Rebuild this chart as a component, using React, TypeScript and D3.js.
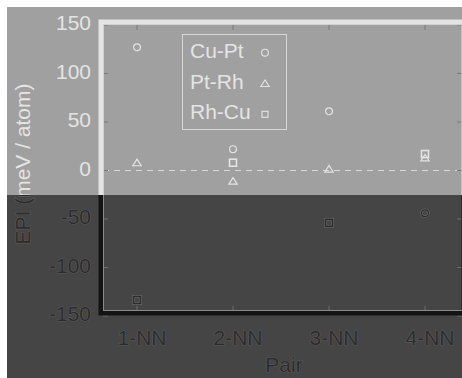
import React from "react";
import * as d3 from "d3";

const categories = ["1-NN", "2-NN", "3-NN", "4-NN"];
const seriesNames = ["Cu-Pt", "Pt-Rh", "Rh-Cu"];
const cuPt = [127, 22, 61, -44];
const ptRh = [8, -11, 1.5, 13];
const rhCu = [-133.5, 8, -54, 17];
const yTicks = [150, 100, 50, 0, -50, -100, -150];
const xTitle = "Pair";
const yTitle = "EPI (meV / atom)";

const W = 462;
const H = 378;
const SPLIT = 195;
const FONT = "'Liberation Sans', Arial, sans-serif";

const x = d3.scalePoint<string>().domain(categories).range([101, 461]).padding(0.375);
const y = d3.scaleLinear().domain([-150, 150]).range([316, 25]);

const series = [
  { name: seriesNames[0], values: cuPt, shape: "circle" },
  { name: seriesNames[1], values: ptRh, shape: "triangle" },
  { name: seriesNames[2], values: rhCu, shape: "square" },
];

function Marker({ shape, cx, cy, color, sw, legend }: any) {
  if (shape === "circle") {
    return <circle cx={cx} cy={cy} r={3.4} fill="none" stroke={color} strokeWidth={sw} />;
  }
  if (shape === "triangle") {
    const p = d3.path();
    p.moveTo(cx, cy - 3.6);
    p.lineTo(cx + 4.2, cy + 3);
    p.lineTo(cx - 4.2, cy + 3);
    p.closePath();
    return <path d={p.toString()} fill="none" stroke={color} strokeWidth={sw} />;
  }
  const s = legend ? 6 : 7;
  return <rect x={cx - s / 2} y={cy - s / 2} width={s} height={s} fill="none" stroke={color} strokeWidth={sw + (legend ? 0 : 0.4)} />;
}

function Layer({ ink, frame, tick, inner, halo }: any) {
  const textProps: any = halo
    ? { fill: ink, stroke: halo, strokeWidth: 0.7, paintOrder: "stroke" }
    : { fill: ink };
  return (
    <g fontFamily={FONT}>
      {/* zero line */}
      <line x1={103} x2={W} y1={y(0)} y2={y(0)} stroke={ink} strokeWidth={1} strokeDasharray="6 5" opacity={0.85} />
      {/* ticks */}
      {categories.map((c) => (
        <g key={c}>
          <line x1={x(c)} x2={x(c)} y1={24} y2={30} stroke={tick} strokeWidth={1} />
          <line x1={x(c)} x2={x(c)} y1={311} y2={306} stroke={tick} strokeWidth={1} />
        </g>
      ))}
      {yTicks.map((t) => (
        <g key={t}>
          <line x1={W} x2={W - 5} y1={y(t)} y2={y(t)} stroke={tick} strokeWidth={1} />
          <line x1={103} x2={108} y1={y(t)} y2={y(t)} stroke={tick} strokeWidth={1} />
        </g>
      ))}
      {/* frame */}
      <rect x={101} y={22} width={363} height={291} fill="none" stroke={frame} strokeWidth={5} />
      <rect x={103.5} y={24.5} width={362} height={286} fill="none" stroke={inner} strokeWidth={1} />
      {/* y tick labels */}
      {yTicks.map((t) => (
        <text key={t} x={91} y={y(t) + 5} textAnchor="end" fontSize={21} {...textProps}>
          {t}
        </text>
      ))}
      {/* x tick labels */}
      {categories.map((c) => (
        <text key={c} x={(x(c) as number) + 5} y={345} textAnchor="middle" fontSize={21} {...textProps}>
          {c}
        </text>
      ))}
      <text x={284} y={372} textAnchor="middle" fontSize={21} {...textProps}>
        {xTitle}
      </text>
      <text transform={`translate(30,164) rotate(-90)`} textAnchor="middle" fontSize={21} {...textProps}>
        {yTitle}
      </text>
      {/* data markers */}
      {series.map((s) =>
        s.values.map((v, i) => (
          <g key={s.name + i}>
            {halo && (
              <Marker shape={s.shape} cx={x(categories[i])} cy={y(v)} color={halo} sw={2.6} />
            )}
            <Marker shape={s.shape} cx={x(categories[i])} cy={y(v)} color={ink} sw={1.2} />
          </g>
        ))
      )}
      {/* legend */}
      <rect x={182.5} y={34.5} width={104} height={95} fill="none" stroke={ink} strokeWidth={1} opacity={0.8} />
      {series.map((s, i) => (
        <g key={s.name}>
          <text x={190} y={57.7 + i * 30.8} fontSize={21} {...textProps}>
            {s.name}
          </text>
          <Marker shape={s.shape} cx={265} cy={52.7 + i * 30.8} color={ink} sw={1.1} legend />
        </g>
      ))}
    </g>
  );
}

export default function App() {
  return (
    <svg
      width={W}
      height={H}
      style={{ position: "absolute", left: 0, top: 0, display: "block" }}
    >
      <defs>
        <clipPath id="clipTop">
          <rect x={0} y={0} width={W} height={SPLIT} />
        </clipPath>
        <clipPath id="clipBottom">
          <rect x={0} y={SPLIT} width={W} height={H - SPLIT} />
        </clipPath>
      </defs>
      <rect x={0} y={0} width={W} height={H} fill="#ffffff" />
      <rect x={7} y={7} width={W - 7} height={SPLIT - 7} fill="#a0a0a0" />
      <rect x={7} y={SPLIT} width={W - 7} height={H - SPLIT} fill="#454545" />
      <g clipPath="url(#clipTop)">
        <Layer ink="#e4e4e4" frame="#e4e4e4" tick="#7a7a7a" inner="#d0d0d0" />
      </g>
      <g clipPath="url(#clipBottom)">
        <Layer ink="#2c2c2c" frame="#141414" tick="#6e6e6e" inner="#8a8a8a" halo="#6a6a6a" />
      </g>
    </svg>
  );
}
